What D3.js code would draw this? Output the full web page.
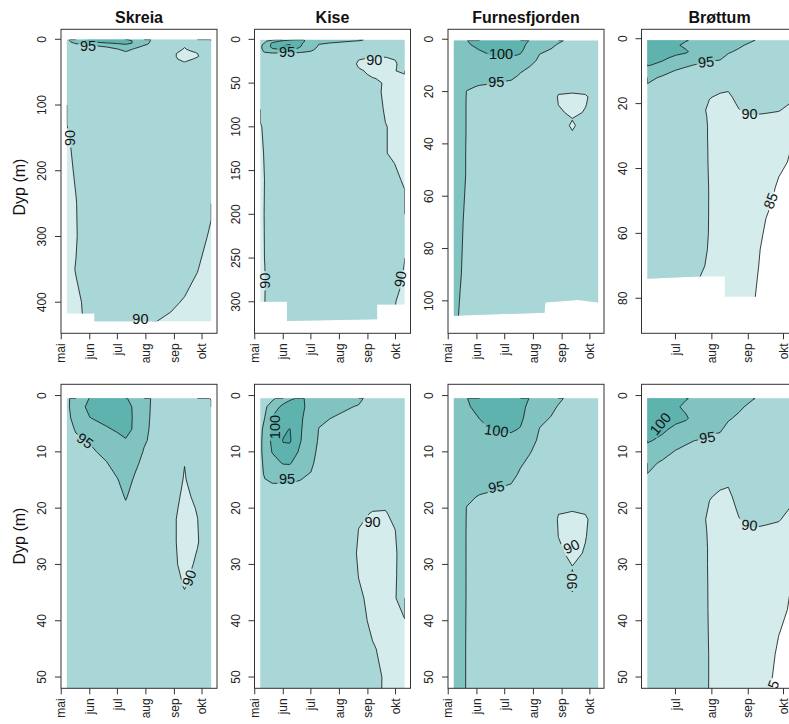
<!DOCTYPE html>
<html>
<head>
<meta charset="utf-8">
<script src="https://cdn.jsdelivr.net/npm/d3@7"></script>
<style>
html,body{margin:0;padding:0;background:#fff;}
svg text{font-family:"Liberation Sans",Arial,Helvetica,sans-serif;}
</style>
</head>
<body>
<script>
// ---------------- DATA ----------------
const levels = [85, 90, 95, 100, 105];
const levelColors = ["#d4ecec", "#a9d6d6", "#80c3c1", "#5fb3af", "#4aa7a2"];
const monthNames = ["jan","feb","mar","apr","mai","jun","jul","aug","sep","okt","nov","des"];
const lakeNames = ["Skreia", "Kise", "Furnesfjorden", "Brøttum"];
const yLabel = "Dyp (m)";

// Skreia
const skreiaDates = ["2013-05-07","2013-05-17","2013-06-01","2013-06-19","2013-07-01","2013-07-10","2013-07-20","2013-07-30","2013-08-08","2013-08-28","2013-09-12","2013-09-26","2013-10-11"];
const skreiaDepths = [0.5,2,4,6,8,10,12,15,18,20,22,26,30,34,38,45,60,100,150,200,250,300,350,400,430];
const skreiaProfiles = [
 [94.3,93.8,93.5,93.2,93,93,93,93,93,93,93,93,93,93,93,93,92.5,90.6,89.6,89.3,89.3,89.3,89.3,89.3,89.3],
 [96.5,98,97,95.4,94.2,93.5,93,93,93,93,93,93,93,93,93,93,92.5,91.5,90.8,90.3,89.9,89.8,90.1,89.6,89.5],
 [100.2,101,99.9,97.5,95.3,94.3,93.5,93,93,93,93,93,93,93,93,93,92.5,92,92,92,92,92,92,90.6,90.5],
 [101.5,101.5,101,99.6,97,96,94.8,93.5,93,93,93,93,93,93,93,93,92.5,92,92,92,92,92,92,91.5,91],
 [101.5,101.5,101.2,100.4,99,97.5,96.5,94.8,93.5,93,93,93,93,93,93,93,92.5,92,92,92,92,92,92,91.5,91],
 [100.5,101,101,100.8,99.8,98.5,97.5,96.5,95.3,94.3,93.5,93,93,93,93,93,92.5,92,92,92,92,92,92,91.5,91],
 [98,99.5,99.6,99.6,99,97.5,95.8,94.5,93.5,93,93,93,93,93,93,93,92.5,92,92,92,92,92,92,91.5,91],
 [96.5,96.5,96.3,96,95.6,94.6,94,93.5,93,93,93,93,93,93,93,93,92.5,92,92,92,92,92,92,91.5,91],
 [94.6,94.5,94.4,94.3,94,93.5,93,93,93,93,92.8,92.5,92.5,92.5,92.5,92.5,92.5,92,92,92,92,92,92,91,90.1],
 [92.5,92.5,92.3,92.2,92.1,92,91.8,91.5,91.2,91.1,91,91,91,91,91.5,92,92,92,92,92,92,91.5,91,90.4,89.6],
 [92,92,91.5,91,90.6,90.3,90.05,89.8,89.4,89,88.5,88.5,89,89.9,90.8,91.5,92,92,92,92,91.8,91.5,91,89.8,89.3],
 [91.5,92,92,92,92,91.8,91.5,91.3,90.6,90.2,89.95,89.8,90.5,91.2,91.5,92,92,92,92,92,92,91,90.05,89.5,89.4],
 [89.8,91,91.5,92,92,92,92,92,92,92,92,92,92,92,92,92,92,92,92,91.5,90.4,89.6,89.3,89.2,89.2]
];
const skreiaBottom = [["2013-05-07",417],["2013-06-06",417],["2013-06-06",429],["2013-10-11",429]];
const skreiaTopDomain = [-15.2, 447.3];
const skreiaTopTicks = [0,100,200,300,400];
const skreiaLabelsTop = [["2013-05-30",10,"95",0],["2013-05-10",150,"90",-90],["2013-07-26",425,"90",0]];
const skreiaLabelsBottom = [["2013-05-27",8,"95",35],["2013-09-17",32.4,"90",-70]];

// Kise
const kiseDates = ["2013-05-07","2013-05-12","2013-05-20","2013-06-01","2013-06-08","2013-06-20","2013-07-01","2013-07-10","2013-07-20","2013-08-07","2013-08-22","2013-09-06","2013-09-20","2013-09-30","2013-10-11"];
const kiseDepths = [0.5,2,4,6,8,10,12,14,16,18,21,24,28,32,36,40,45,50,60,80,100,130,160,200,250,280,300,325];
const kiseProfiles = [
 [92.5,93,93.3,93.8,94,94,94,93.8,93.5,93,93,93,93,93,93,92.5,92.5,92,91.5,90.8,89.7,89.5,89.5,89.5,89.5,89.5,89.5,89.5],
 [93.5,94.3,95.1,96.5,97,97,96,95.5,94.2,93.5,93,93,93,93,93,93,92.5,92.5,92,91.5,90.6,90.2,90.05,90.1,90.05,89.9,90,90],
 [94.2,97,100.5,101,101,100.2,98.5,96.5,94.6,93.5,93,93,93,93,93,93,93,92.5,92,92,92,92,92,92,92,92,92,92],
 [97,101.5,102,104,105.3,103.5,100.3,97,94.5,93.5,93,93,93,93,93,93,93,92.5,92,92,92,92,92,92,92,92,92,92],
 [99.5,101.5,102,105.2,105.6,103,100.4,97,94.6,93.5,93,93,93,93,93,93,93,92.5,92,92,92,92,92,92,92,92,92,92],
 [100.5,101,100.5,100.3,100.1,99,97.5,95.5,94.5,93.5,93,93,93,93,93,93,93,92.5,92,92,92,92,92,92,92,92,92,92],
 [99,98.5,98,97.5,97,96.5,95.8,94.8,94,93.5,93,93,93,93,93,93,93,92.5,92,92,92,92,92,92,92,92,92,92],
 [97.5,97,96,94.8,94.5,94,93.5,93.5,93,93,93,93,93,93,93,93,93,92.5,92,92,92,92,92,92,92,92,92,92],
 [96.5,96,95.1,94.5,94,94,93.5,93.5,93,93,93,92.8,92.5,92.5,92.5,92.5,92.5,92.5,92,92,92,92,92,92,92,92,92,92],
 [95.8,95.3,94.5,94,94,93.5,93.5,93,93,93,92.5,92,91.5,91.5,91.8,92,92,92,92,92,92,92,92,92,92,92,92,92],
 [95.6,94.8,94.3,94,93.5,93,93,92.5,92,91.5,90.3,89.95,89.7,89.95,90.3,90.8,91.5,92,92,92,92,92,92,92,92,92,92,92],
 [93.8,93.5,93.3,93,92.8,92.5,92,91.5,91,90.6,89.9,89.5,89.3,89.3,89.5,89.5,90.2,90.8,91,91.5,92,92,92,92,92,92,92,92],
 [93.5,93.3,93,92.8,92.5,92.3,92,91.5,91,90.8,89.8,89.5,89.3,89.2,89.2,89.2,89.5,89.7,89.5,89.7,90.1,90.05,90.5,91,91,91,91,91],
 [93,93,92.8,92.5,92.3,92,91.8,91.5,91.2,91,90.6,89.9,89.7,89.8,89.9,89.6,89.5,89.5,89.6,89.6,89.6,89.8,90.3,91,91,91,90.1,90],
 [92.5,92.5,92.5,92.3,92.2,92,92,91.8,91.6,91.5,91.3,91.2,91,90.8,90.6,89.95,89.5,89.3,89.3,89.3,89.3,89.3,89.8,90.5,90.05,89.5,89.3,89.3]
];
const kiseBottom = [["2013-05-07",300],["2013-06-05",300],["2013-06-05",322],["2013-09-11",320],["2013-09-11",303],["2013-10-11",303]];
const kiseTopDomain = [-11.5, 336];
const kiseTopTicks = [0,50,100,150,200,250,300];
const kiseLabelsTop = [["2013-06-05",14.2,"95",0],["2013-09-08",23.7,"90",0],["2013-05-12",276,"90",-90],["2013-10-06",274,"90",-80]];
const kiseLabelsBottom = [["2013-05-23",5.6,"100",-90],["2013-06-05",14.7,"95",0],["2013-09-06",22.4,"90",0]];

// Furnesfjorden
const furnesDates = ["2013-05-07","2013-05-14","2013-05-21","2013-06-04","2013-06-20","2013-07-08","2013-07-18","2013-07-28","2013-08-08","2013-08-20","2013-08-28","2013-09-12","2013-09-26","2013-10-10"];
const furnesDepths = [0.5,2,4,6,8,10,12,14,16,18,20,22,25,28,30.5,33,36,40,45,52,70,90,106];
const furnesProfiles = [
 [97,97,96.8,96.5,96.5,96.5,96.5,96.5,96.5,96.5,96.5,96.5,96.5,96.5,96.5,96.5,96.5,96.5,96.5,96.5,96.2,96,96],
 [98,97.5,97,96.8,96.5,96.5,96.5,96.5,96.5,96.5,96.5,96.5,96.5,96.5,96.5,96.5,96.5,96.5,96.5,96.5,95.8,95.2,94.6],
 [99.9,99.5,98.5,98,97.5,97.2,97,96.8,96.5,95.5,94.9,94.85,94.8,94.8,94.8,94.8,94.8,94.75,94.7,94.7,94,94,93.5],
 [101.5,101.2,100.1,99,98,97.5,97,96.5,95.8,94.8,94,93.5,93,93,93,93,93,93,93,93,93,93,93],
 [102,102,101.5,100.4,99,98,97.5,96.5,95.4,94.5,93.5,93,93,93,93,93,93,93,93,93,93,93,93],
 [102,102,101.5,100.4,99,98,97,96,94.8,93.8,93,93,93,93,93,93,93,93,93,93,93,93,93],
 [101,101,100.7,99.8,98.5,97,95.4,94.5,93.8,93,93,93,93,93,93,93,93,93,93,93,93,93,93],
 [99.9,99.2,98.5,97.5,96.5,95.2,94.3,93.8,93,93,92.8,92.6,92.5,92.5,92.5,92.5,92.5,92.5,92.5,92.5,92.5,92.5,92.5],
 [98,97.5,96,94.8,94.2,93.8,93,93,93,92.8,92.6,92.5,92.5,92.5,92.5,92.5,92.5,92.5,92.5,92.5,92.5,92.5,92.5],
 [96.5,96,94.8,94,93.5,93.5,93,93,92.8,92.6,92.5,92.5,92.3,92.2,92.3,92.5,92.5,92.5,92.5,92.5,92.5,92.5,92.5],
 [95.8,94.7,94,93.5,93,93,93,93,92.5,92,90.5,89.6,89.95,90.8,91.5,91.8,92.2,92.5,92.5,92.5,92.5,92.5,92.5],
 [93.6,93.5,93.3,93,92.8,92.5,92,92,91.5,91,90.4,89,88.5,89,90.1,89.5,90.3,92,92.5,92.5,92.5,92.5,92.5],
 [93.2,93,93,92.8,92.5,92.3,92,91.8,91.5,91,90.5,89.6,89.8,90.3,91,91.5,92,92.3,92.5,92.5,92.5,92.5,92.5],
 [93,93,93,92.8,92.5,92.3,92,92,92,92,92,91.5,92,92,92,92,92,92.3,92.5,92.5,92.5,92.5,92.5]
];
const furnesBottom = [["2013-05-07",105.7],["2013-08-13",104.5],["2013-08-14",100.6],["2013-09-18",99.7],["2013-10-10",100.6]];
const furnesTopDomain = [-3.8, 112.4];
const furnesTopTicks = [0,20,40,60,80,100];
const furnesLabelsTop = [["2013-06-27",5.5,"100",0],["2013-06-22",16.3,"95",0]];
const furnesLabelsBottom = [["2013-06-22",6.2,"100",8],["2013-06-22",16.2,"95",-10],["2013-09-11",26.8,"90",-25],["2013-09-11",33,"90",-90]];

// Brøttum
const brottumDates = ["2013-06-07","2013-06-20","2013-07-01","2013-07-10","2013-07-22","2013-07-30","2013-08-08","2013-08-15","2013-08-24","2013-09-05","2013-09-16","2013-09-27","2013-10-08"];
const brottumDepths = [0.5,2,4,6,8,10,12,14,16,18,20,22,24,27,30,34,38,42,46,50,55,60,65,70,74,80];
const brottumProfiles = [
 [103,103,102.5,101.5,100.4,98.5,96.5,94.9,94,93.5,93,93,93,93,93,93,93,93,93,93,93,92.8,92.8,92.5,92.5,92.5],
 [102.5,102.5,101.5,100.6,99.2,97,94.2,93.8,93.5,93,93,93,93,93,93,93,93,93,93,93,92.8,92.8,92.5,92.5,92.5,92.5],
 [101.5,100.5,101,99.2,97.5,94.6,94,93.5,93.2,93,93,93,93,93,93,93,93,93,93,92.8,92.8,92.5,92.5,92.3,92.3,92.3],
 [100.2,99.3,100.4,98.5,95.3,94.5,93.5,93.2,93,93,93,92.8,92.8,92.5,92.5,92.5,92.5,92.5,92.5,92.5,92.3,92.3,92,92,92,92],
 [99,98.5,98,96.8,94.8,94,93.5,93,92.8,92.5,92,91,91.2,91.5,91.5,91.8,92,92,92,92,91.8,91.5,91,90.5,89.9,89.8],
 [98,97.5,97,95.6,94.4,93.8,93.5,93,92.5,90.2,89.6,89.3,89.5,89.6,89.6,89.6,89.6,89.7,89.8,89.8,89.8,89.8,89.7,89.5,89.3,89],
 [96.5,96.2,95.8,95.2,94.5,94,93.5,92.5,90.4,89.4,89.2,89.2,89.2,89.2,89.2,89.2,89.2,89.2,89,89,89,89,88.8,88.8,88.8,88.8],
 [95.8,95.6,95.2,94.5,94,93.5,92.5,91.5,90.1,89.4,89,89,89,89,89,89,89,89,88.8,88.8,88.7,88.6,88.5,88.5,88.5,88.5],
 [95.6,95.3,94.7,94,93.5,93,92.5,92,91.5,91,90.4,89.9,89.5,89.3,89.2,89,89,88.8,88.5,88.2,88,87.8,87.5,87.2,87,86.8],
 [95.1,94.5,94,93.8,93.5,93,92.5,92.3,92,91.6,91.2,90.6,89.8,89.4,89.2,89,88.8,88.6,88.5,88.3,87.5,86.8,86,85.8,85.5,85.2],
 [94.5,94.3,94,93.5,93.2,93,92.5,92.2,91.8,91.4,91,90.3,89.7,89,88.5,88,87.5,87,86.5,86,85.05,84.5,84.2,84,84,84],
 [94,93.8,93.5,93.2,93,92.5,92.2,91.8,91.4,91,90.5,90.1,89.6,89,88.5,87.5,86,85.1,84.4,84,83.8,83.6,83.5,83.5,83.5,83.5],
 [93.5,93.3,93,92.8,92.5,92.2,91.8,91.5,91.2,90.8,89.9,89.5,89.2,89,87.5,84.8,84.5,84,83.8,83.5,83.5,83.5,83.5,83.5,83.5,83.5]
];
const brottumBottom = [["2013-06-07",74],["2013-07-20",73.3],["2013-08-12",73.3],["2013-08-12",79.5],["2013-10-08",79.5]];
const brottumTopDomain = [-2.9, 90.8];
const brottumTopTicks = [0,20,40,60,80];
const brottumLabelsTop = [["2013-07-27",7.1,"95",-5],["2013-09-02",23,"90",0],["2013-09-20",49.9,"85",-70]];
const brottumLabelsBottom = [["2013-06-18",5,"100",-50],["2013-07-28",7.4,"95",-8],["2013-09-02",23,"90",5],["2013-09-21",52.0,"85",-70]];

const bottomRowDomain = [-2, 52];
const bottomRowTicks = [0,10,20,30,40,50];

// ---------------- LAYOUT ----------------
const W = 789, H = 724;
const panelLefts = [61, 254.5, 448, 641.5];
const panelWidth = 156;
const rowTops = [29.3, 384.3];
const rowHeight = 304;
const labelSize = 14.5;
const parseDate = d3.timeParse("%Y-%m-%d");

const lakes = [
  {name: lakeNames[0], dates: skreiaDates, depths: skreiaDepths, profiles: skreiaProfiles, bottom: skreiaBottom, topDomain: skreiaTopDomain, topTicks: skreiaTopTicks, labels: [skreiaLabelsTop, skreiaLabelsBottom]},
  {name: lakeNames[1], dates: kiseDates, depths: kiseDepths, profiles: kiseProfiles, bottom: kiseBottom, topDomain: kiseTopDomain, topTicks: kiseTopTicks, labels: [kiseLabelsTop, kiseLabelsBottom]},
  {name: lakeNames[2], dates: furnesDates, depths: furnesDepths, profiles: furnesProfiles, bottom: furnesBottom, topDomain: furnesTopDomain, topTicks: furnesTopTicks, labels: [furnesLabelsTop, furnesLabelsBottom]},
  {name: lakeNames[3], dates: brottumDates, depths: brottumDepths, profiles: brottumProfiles, bottom: brottumBottom, topDomain: brottumTopDomain, topTicks: brottumTopTicks, labels: [brottumLabelsTop, brottumLabelsBottom]}
];

const svg = d3.select("body").append("svg").attr("width", W).attr("height", H);
svg.append("rect").attr("width", W).attr("height", H).attr("fill", "#fff");
const defs = svg.append("defs");

// split a closed contour ring into polylines, dropping pieces that run along the grid border
function ringLines(ring, nx, ny) {
  const isB = (a, b) => (a[0] === 0 && b[0] === 0) || (a[0] === nx && b[0] === nx) ||
                        (a[1] === 0 && b[1] === 0) || (a[1] === ny && b[1] === ny);
  const segs = [];
  for (let k = 0; k < ring.length - 1; k++) segs.push([ring[k], ring[k + 1]]);
  const flags = segs.map(s => isB(s[0], s[1]));
  if (!flags.some(f => f)) return [ring];
  const m = segs.length, start = flags.findIndex(f => f);
  const out = []; let cur = null;
  for (let t = 1; t <= m; t++) {
    const k = (start + t) % m;
    if (flags[k]) { if (cur) { out.push(cur); cur = null; } }
    else { if (!cur) cur = [segs[k][0]]; cur.push(segs[k][1]); }
  }
  if (cur) out.push(cur);
  return out;
}

function drawPanel(lake, row, col) {
  const id = "p" + row + col;
  const left = panelLefts[col], top = rowTops[row];
  const dates = lake.dates.map(parseDate);
  const t0 = +dates[0], t1 = +dates[dates.length - 1], pad = 0.04 * (t1 - t0);
  const x = d3.scaleTime().domain([new Date(t0 - pad), new Date(t1 + pad)]).range([left, left + panelWidth]);
  const y = d3.scaleLinear().domain(row === 0 ? lake.topDomain : bottomRowDomain).range([top, top + rowHeight]);
  const nx = dates.length, ny = lake.depths.length;
  const grid = new Array(nx * ny);
  for (let j = 0; j < ny; j++) for (let i = 0; i < nx; i++) grid[j * nx + i] = lake.profiles[i][j];
  const tAt = d3.scaleLinear().domain(d3.range(nx)).range(dates.map(Number));
  const dAt = d3.scaleLinear().domain(d3.range(ny)).range(lake.depths);
  const proj = p => {
    const ix = Math.max(0, Math.min(nx - 1, p[0] - 0.5));
    const iy = Math.max(0, Math.min(ny - 1, p[1] - 0.5));
    return [x(new Date(tAt(ix))).toFixed(2), y(dAt(iy)).toFixed(2)];
  };
  const contours = d3.contours().size([nx, ny]).thresholds(levels)(grid);

  defs.append("clipPath").attr("id", id + "f").append("rect")
    .attr("x", left).attr("y", top).attr("width", panelWidth).attr("height", rowHeight);
  const ext = [[x(dates[0]), y(lake.depths[0])], [x(dates[nx - 1]), y(lake.depths[0])]]
    .concat(lake.bottom.slice().reverse().map(b => [x(parseDate(b[0])), y(b[1])]));
  defs.append("clipPath").attr("id", id + "d").append("path").attr("d", "M" + ext.join("L") + "Z");

  const labels = lake.labels[row];
  const mask = defs.append("mask").attr("id", id + "m").attr("maskUnits", "userSpaceOnUse")
    .attr("x", 0).attr("y", 0).attr("width", W).attr("height", H);
  mask.append("rect").attr("width", W).attr("height", H).attr("fill", "white");
  labels.forEach(l => {
    const px = x(parseDate(l[0])), py = y(l[1]);
    const w = l[2].length * labelSize * 0.56 + 3, h = labelSize * 0.72 + 3;
    mask.append("rect").attr("x", -w / 2).attr("y", -h / 2).attr("width", w).attr("height", h)
      .attr("transform", `translate(${px},${py}) rotate(${l[3]})`).attr("fill", "black");
  });

  const gF = svg.append("g").attr("clip-path", `url(#${id}f)`);
  const gD = gF.append("g").attr("clip-path", `url(#${id}d)`);
  contours.forEach((c, k) => {
    const d = c.coordinates.map(poly => poly.map(ring => "M" + ring.map(p => proj(p).join(",")).join("L") + "Z").join("")).join("");
    if (d) gD.append("path").attr("d", d).attr("fill", levelColors[k]).attr("fill-rule", "evenodd")
      .attr("stroke", levelColors[k]).attr("stroke-width", 0.4);
  });
  const gL = gD.append("g").attr("mask", `url(#${id}m)`).attr("fill", "none")
    .attr("stroke", "#1e1e1e").attr("stroke-width", 0.85).attr("stroke-linejoin", "round");
  contours.forEach(c => {
    c.coordinates.forEach(poly => poly.forEach(ring => {
      ringLines(ring, nx, ny).forEach(line => {
        gL.append("path").attr("d", "M" + line.map(p => proj(p).join(",")).join("L"));
      });
    }));
  });
  labels.forEach(l => {
    gF.append("text").attr("transform", `translate(${x(parseDate(l[0]))},${y(l[1])}) rotate(${l[3]})`)
      .attr("text-anchor", "middle").attr("dy", "0.36em").attr("font-size", labelSize).attr("fill", "#111").text(l[2]);
  });

  // frame
  svg.append("rect").attr("x", left).attr("y", top).attr("width", panelWidth).attr("height", rowHeight)
    .attr("fill", "none").attr("stroke", "#333").attr("stroke-width", 1);
  // y axis
  const yt = row === 0 ? lake.topTicks : bottomRowTicks;
  yt.forEach(t => {
    svg.append("line").attr("x1", left - 6).attr("x2", left).attr("y1", y(t)).attr("y2", y(t)).attr("stroke", "#333");
    svg.append("text").attr("transform", `translate(${left - 15},${y(t)}) rotate(-90)`)
      .attr("text-anchor", "middle").attr("font-size", 12).attr("fill", "#222").text(t);
  });
  // x axis (month starts)
  const bottomY = top + rowHeight;
  d3.timeMonth.range(x.domain()[0], x.domain()[1]).forEach(m => {
    const xp = x(m);
    svg.append("line").attr("x1", xp).attr("x2", xp).attr("y1", bottomY).attr("y2", bottomY + 6).attr("stroke", "#333");
    svg.append("text").attr("transform", `translate(${xp},${bottomY + 10}) rotate(-90)`)
      .attr("text-anchor", "end").attr("dy", "0.35em").attr("font-size", 12).attr("fill", "#222")
      .text(monthNames[m.getMonth()]);
  });
  if (row === 0) {
    svg.append("text").attr("x", left + panelWidth / 2).attr("y", 22.5).attr("text-anchor", "middle")
      .attr("font-size", 16).attr("font-weight", "bold").attr("fill", "#111").text(lake.name);
  }
  if (col === 0) {
    svg.append("text").attr("transform", `translate(25,${row === 0 ? 187 : 536}) rotate(-90)`)
      .attr("text-anchor", "middle").attr("font-size", 16).attr("fill", "#111").text(yLabel);
  }
}

lakes.forEach((lake, col) => { [0, 1].forEach(row => drawPanel(lake, row, col)); });
</script>
</body>
</html>
